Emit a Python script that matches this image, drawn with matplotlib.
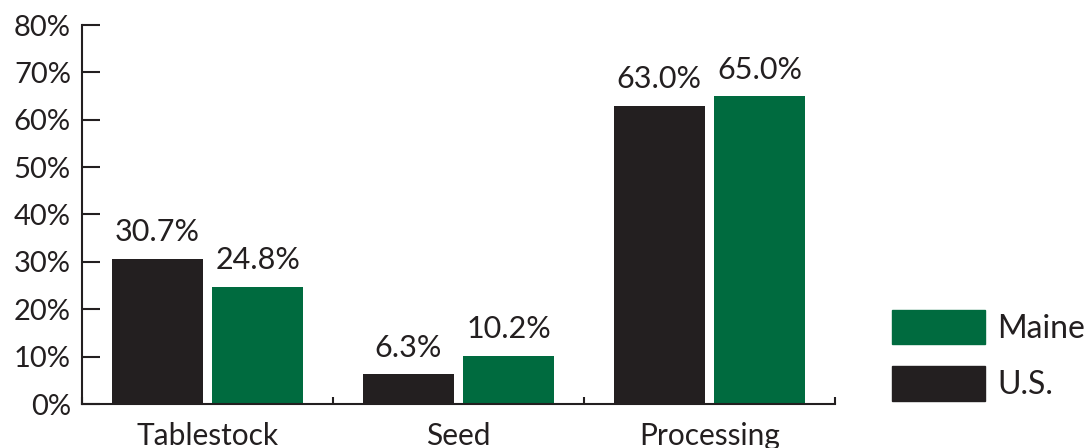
import numpy as np
import matplotlib
matplotlib.use("Agg")
import matplotlib.pyplot as plt
from matplotlib.patches import Patch

# === Data ===
categories = ["Tablestock", "Seed", "Processing"]
us_vals = [30.7, 6.3, 63.0]
maine_vals = [24.8, 10.2, 65.0]
yticks = [0, 10, 20, 30, 40, 50, 60, 70, 80]

black = "#231f20"
green = "#006b3f"
txt = "#231f20"

plt.rcParams["font.family"] = ["Lato", "DejaVu Sans"]

fig = plt.figure(figsize=(10.86, 4.48), dpi=100)
ax = fig.add_axes([82 / 1086, 44 / 448, (835 - 82) / 1086, (404 - 25) / 448])

x = np.arange(len(categories))
w = 0.363
b_us = ax.bar(x - 0.2, us_vals, w, color=black, label="U.S.")
b_me = ax.bar(x + 0.2, maine_vals, w, color=green, label="Maine")

for bars in (b_us, b_me):
    ax.bar_label(bars, labels=[f"{v:.1f}%" for v in bars.datavalues],
                 padding=9, fontsize=22, color=txt)

ax.set_xlim(-0.5, 2.5)
ax.set_ylim(0, 80)
ax.set_yticks(yticks)
ax.set_yticklabels([f"{t}%" for t in yticks])
ax.set_xticks(x)
ax.set_xticklabels(categories)
ax.set_xticks([-0.5, 0.5, 1.5, 2.5], minor=True)

ax.tick_params(axis="y", direction="in", length=13, width=1.5, color=black,
               labelsize=21, labelcolor=txt, pad=8)
ax.tick_params(axis="x", which="major", length=0, labelsize=21.5, labelcolor=txt, pad=13)
ax.tick_params(axis="x", which="minor", direction="in", length=5, width=1.5, color=black)

for s in ["top", "right"]:
    ax.spines[s].set_visible(False)
for s in ["left", "bottom"]:
    ax.spines[s].set_linewidth(1.5)
    ax.spines[s].set_color(black)

handles = [Patch(color=green, label="Maine"), Patch(color=black, label="U.S.")]
fig.legend(handles=handles, loc="lower left",
           bbox_to_anchor=(892 / 1086, 47 / 448), frameon=False,
           fontsize=23, labelcolor=txt, handlelength=2.9, handleheight=1.3,
           handletextpad=0.4, labelspacing=0.68, borderpad=0, borderaxespad=0)

fig.savefig("out.png", dpi=100)
